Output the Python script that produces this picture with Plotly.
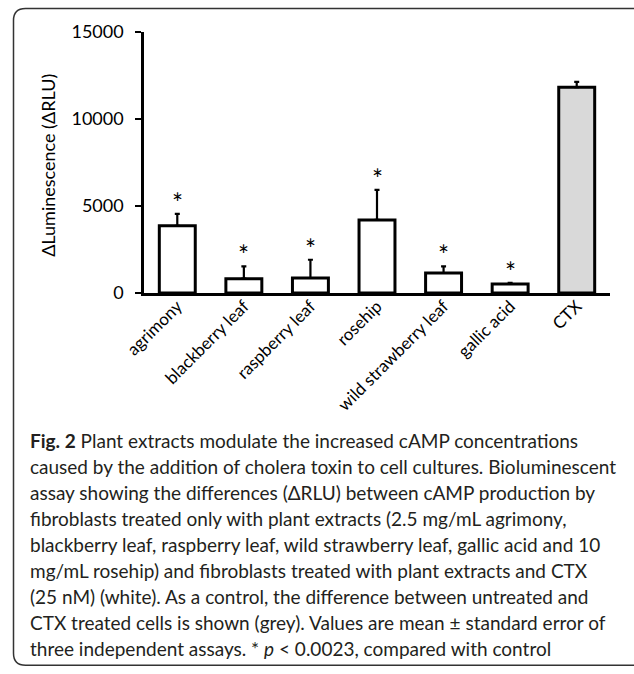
import plotly.graph_objects as go

categories = ["agrimony", "blackberry leaf", "raspberry leaf", "rosehip",
              "wild strawberry leaf", "gallic acid", "CTX"]
means = [3863, 821, 861, 4200, 1148, 517, 11826]
sems = [690, 706, 1051, 1730, 379, 70, 310]
fills = ["white", "white", "white", "white", "white", "white", "#d9d9d9"]
stars = ["*", "*", "*", "*", "*", "*", ""]
y_ticks = [0, 5000, 10000, 15000]
y_tick_labels = ["0", "5000", "10000", "15000"]

caption_lines = [
    "<b>Fig. 2</b> Plant extracts modulate the increased cAMP concentrations",
    "caused by the addition of cholera toxin to cell cultures. Bioluminescent",
    "assay showing the differences (ΔRLU) between cAMP production by",
    "fibroblasts treated only with plant extracts (2.5 mg/mL agrimony,",
    "blackberry leaf, raspberry leaf, wild strawberry leaf, gallic acid and 10",
    "mg/mL rosehip) and fibroblasts treated with plant extracts and CTX",
    "(25 nM) (white). As a control, the difference between untreated and",
    "CTX treated cells is shown (grey). Values are mean ± standard error of",
    "three independent assays. * <i>p</i> &lt; 0.0023, compared with control",
]

W, H = 634, 674
L, R, T, B = 144, 610, 32, 293.3


def px(x):
    return (x - L) / (R - L)


def py(y):
    return (B - y) / (B - T)


fig = go.Figure()
fig.add_trace(go.Bar(
    x=categories, y=means,
    marker=dict(color=fills, line=dict(color="black", width=3)),
    width=0.54,
    error_y=dict(type="data", symmetric=False, array=sems,
                 arrayminus=[0] * len(sems), color="black",
                 thickness=2.2, width=2.5),
    showlegend=False,
))

annotations = []
for c, m, s, st in zip(categories, means, sems, stars):
    if st:
        annotations.append(dict(x=c, y=m + s, xref="x", yref="y", text=st,
                                showarrow=False, yanchor="bottom",
                                yshift=-7,
                                font=dict(family="Lato", size=26, color="black")))

annotations.append(dict(x=px(48), y=py(166), xref="paper", yref="paper",
                        text="ΔLuminescence (ΔRLU)", textangle=-90,
                        showarrow=False, xanchor="center", yanchor="middle",
                        font=dict(family="Lato", size=18, color="black")))

line_y0 = 441
step = 26
for i, line in enumerate(caption_lines):
    annotations.append(dict(x=px(28), y=py(line_y0 + i * step),
                            xref="paper", yref="paper", text=line,
                            showarrow=False, xanchor="left", yanchor="middle",
                            font=dict(family="Lato", size=19, color="#231f20")))

# rounded border
x0, x1, y0, y1, r = px(13.5), px(650), py(8.5), py(666), 12
rx = r / (R - L)
ry = r / (B - T)
path = (f"M {x0+rx},{y0} L {x1},{y0} "
        f"M {x0+rx},{y0} Q {x0},{y0} {x0},{y0-ry} "
        f"L {x0},{y1+ry} Q {x0},{y1} {x0+rx},{y1} L {x1},{y1}")

fig.update_layout(
    width=W, height=H,
    margin=dict(l=L, r=W - R, t=T, b=H - B),
    paper_bgcolor="white", plot_bgcolor="white",
    bargap=0.46,
    annotations=annotations,
    shapes=[dict(type="path", path=path, xref="paper", yref="paper",
                 line=dict(color="#333333", width=1.5))],
    xaxis=dict(showline=True, linecolor="black", linewidth=2.5,
               ticks="", tickangle=-45, range=[-0.5, 6.5],
               ticklabelstandoff=-6,
               tickfont=dict(family="Lato", size=17, color="black"),
               showgrid=False, zeroline=False),
    yaxis=dict(showline=True, linecolor="black", linewidth=2.5,
               range=[0, 15000], tickvals=y_ticks, ticktext=y_tick_labels,
               ticks="outside", ticklen=6, tickwidth=2, tickcolor="black",
               ticklabelstandoff=8,
               tickfont=dict(family="Lato", size=18, color="black"),
               showgrid=False, zeroline=False),
)

fig.write_html("out.html")
